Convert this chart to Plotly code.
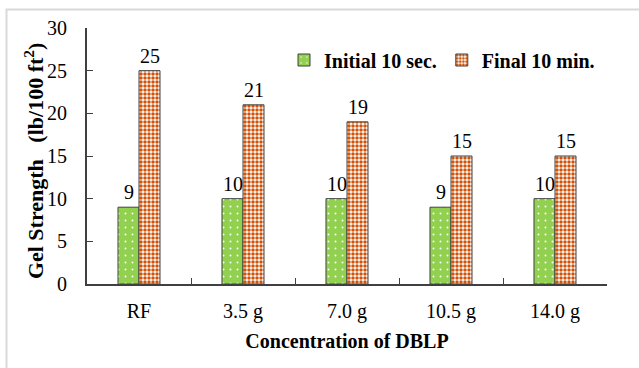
import plotly.graph_objects as go

# Gel strength readings per DBLP concentration
categories = ["RF", "3.5 g", "7.0 g", "10.5 g", "14.0 g"]
initial_10_sec = [9, 10, 10, 9, 10]
final_10_min = [25, 21, 19, 15, 15]
y_ticks = [0, 5, 10, 15, 20, 25, 30]

SERIF = "Liberation Serif"
AXIS_COLOR = "#404040"

W, H = 639, 368
ML, MR, MT, MB = 87, 32, 28, 84
PW, PH = W - ML - MR, H - MT - MB


def px_x(px):
    return (px - ML) / PW


def px_y(py):
    return 1 - (py - MT) / PH


def serif(size=20):
    return dict(family=SERIF, size=size, color="black")


fig = go.Figure()

fig.add_trace(go.Bar(
    name="<b>Initial 10 sec.</b>",
    x=categories,
    y=initial_10_sec,
    marker=dict(
        color="#92D050",
        line=dict(color=AXIS_COLOR, width=1),
        pattern=dict(shape=".", fgcolor="white", bgcolor="#92D050",
                     size=7, solidity=0.06, fillmode="replace"),
    ),
))

fig.add_trace(go.Bar(
    name="<b>Final 10 min.</b>",
    x=categories,
    y=final_10_min,
    marker=dict(
        color="#D55A10",
        line=dict(color=AXIS_COLOR, width=1),
        pattern=dict(shape=".", fgcolor="#D0550C", bgcolor="white",
                     size=4, solidity=0.6, fillmode="replace"),
    ),
))

# Value labels above each bar
bar_half = 10.5
for series, shift in ((initial_10_sec, -bar_half), (final_10_min, bar_half)):
    for cat, val in zip(categories, series):
        fig.add_annotation(
            x=cat, y=val, text=str(val), showarrow=False,
            xshift=shift, yshift=2, yanchor="bottom",
            font=serif(),
        )

# Vertical axis title
fig.add_annotation(
    x=px_x(34), y=0.48, xref="paper", yref="paper",
    text="<b>Gel Strength \u00a0\u00a0(lb/100 ft<sup>2</sup>)</b>",
    textangle=-90, showarrow=False, xanchor="center", yanchor="middle",
    font=serif(22),
)

# Chart-area frame
fig.add_shape(
    type="rect", xref="paper", yref="paper",
    x0=px_x(6.5), x1=px_x(660), y0=px_y(380), y1=px_y(9.5),
    line=dict(color="#D9D9D9", width=2), fillcolor="rgba(0,0,0,0)",
    layer="below",
)

fig.update_layout(
    width=W, height=H,
    margin=dict(l=ML, r=MR, t=MT, b=MB),
    paper_bgcolor="white",
    plot_bgcolor="white",
    barmode="group",
    bargap=0.596,
    bargroupgap=0,
    legend=dict(
        orientation="h",
        x=px_x(284), y=px_y(60), xanchor="left", yanchor="middle",
        font=serif(),
        bgcolor="rgba(0,0,0,0)",
        itemwidth=30,
        tracegroupgap=0,
    ),
    showlegend=True,
)

fig.update_xaxes(
    type="category",
    range=[-0.5, 4.5],
    showline=True, linecolor=AXIS_COLOR, linewidth=2,
    ticks="inside", ticklen=6, tickcolor=AXIS_COLOR, tickwidth=1,
    tickson="boundaries",
    showgrid=False,
    tickfont=serif(),
    ticklabelstandoff=8,
    title=dict(text="<b>Concentration of DBLP</b>", font=serif(), standoff=12),
)

fig.update_yaxes(
    range=[0, 30],
    tickvals=y_ticks,
    showline=True, linecolor=AXIS_COLOR, linewidth=2,
    ticks="inside", ticklen=6, tickcolor=AXIS_COLOR, tickwidth=1,
    showgrid=False, zeroline=False,
    tickfont=serif(),
    ticklabelstandoff=14,
)

fig.write_html("out.html")
